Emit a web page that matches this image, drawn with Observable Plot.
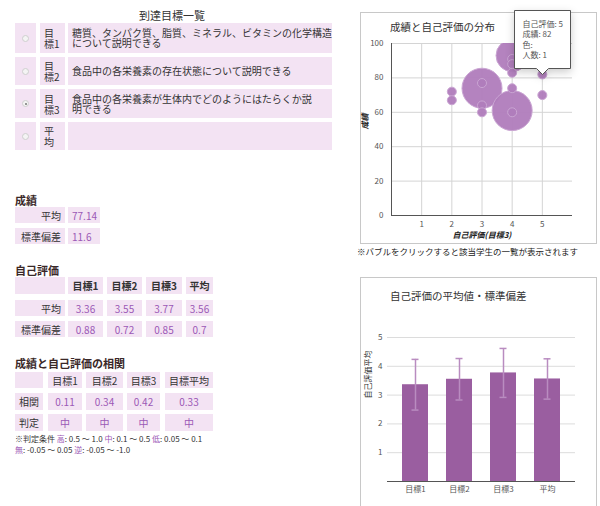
<!DOCTYPE html>
<html><head><meta charset="utf-8">
<script src="https://cdn.jsdelivr.net/npm/d3@7"></script>
<script src="https://cdn.jsdelivr.net/npm/@observablehq/plot@0.6"></script>
<style>
body{margin:0;width:600px;height:506px;position:relative;overflow:hidden;background:#fff;font-family:"Noto Sans CJK JP","Noto Sans",sans-serif;color:#333;}
.cell{position:absolute;box-sizing:border-box;background:#f3e3f3;font-size:10px;line-height:11px;display:flex;align-items:center;white-space:pre-line;}
.txt{position:absolute;white-space:nowrap;}
.hd{position:absolute;font-size:11px;font-weight:bold;color:#3a2828;white-space:nowrap;}
.val{color:#9b59b6;justify-content:center;}
.radio{width:7px;height:7px;border-radius:50%;border:1px solid #cfcfcf;background:#f4f4f4;box-sizing:border-box;margin:auto;position:relative;}
.radio.on::after{content:"";position:absolute;left:1.5px;top:1.5px;width:2px;height:2px;border-radius:50%;background:#777;}
.frame{position:absolute;box-sizing:border-box;border:1px solid #c8c8c8;}
.ctitle{position:absolute;font-size:10.5px;color:#333;white-space:nowrap;}
.plotwrap{position:absolute;}
</style></head><body>
<script>
// ---- data ----
const goalTitle = "到達目標一覧";
const goalLabels = ["目標1", "目標2", "目標3", "平均"];
const goalTexts = [
  "糖質、タンパク質、脂質、ミネラル、ビタミンの化学構造\nについて説明できる",
  "食品中の各栄養素の存在状態について説明できる",
  "食品中の各栄養素が生体内でどのようにはたらくか説\n明できる",
  ""
];
const selectedGoal = 2;
const scoreStatLabels = ["平均", "標準偏差"];
const scoreStatValues = ["77.14", "11.6"];
const selfCols = ["目標1", "目標2", "目標3", "平均"];
const selfRowLabels = ["平均", "標準偏差"];
const selfMean = [3.36, 3.55, 3.77, 3.56];
const selfSd = [0.88, 0.72, 0.85, 0.7];
const corrCols = ["目標1", "目標2", "目標3", "目標平均"];
const corrRowLabels = ["相関", "判定"];
const corrValues = [0.11, 0.34, 0.42, 0.33];
const corrJudge = ["中", "中", "中", "中"];
const noteLine1 = [["※判定条件 ", 0], ["高", 1], [": 0.5 〜 1.0 ", 0], ["中", 1], [": 0.1 〜 0.5 ", 0], ["低", 1], [": 0.05 〜 0.1", 0]];
const noteLine2 = [["無", 1], [": -0.05 〜 0.05 ", 0], ["逆", 1], [": -0.05 〜 -1.0", 0]];

const scatterTitle = "成績と自己評価の分布";
const scatterXLabel = "自己評価(目標3)";
const scatterYLabel = "成績";
const scatterNote = "※バブルをクリックすると該当学生の一覧が表示されます";
const bubbleSelf  = [3, 4, 4, 2, 2, 3, 3, 3, 4, 4, 4, 4, 4, 5, 5, 5];
const bubbleScore = [74, 93, 61, 72, 67, 77, 64, 60, 91, 88, 83, 74, 60, 87, 82, 70];
const bubbleCount = [5, 4, 5, 1, 1, 1, 1, 1, 1, 1, 1, 1, 1, 1, 1, 1];
const tipSelf = 5, tipScore = 82, tipCount = 1;
const scatterXTicks = [1, 2, 3, 4, 5];
const scatterYTicks = [0, 20, 40, 60, 80, 100];

const barTitle = "自己評価の平均値・標準偏差";
const barYLabel = "自己評価平均";
const barLabels = ["目標1", "目標2", "目標3", "平均"];
const barYTicks = [1, 2, 3, 4, 5];

// ---- helpers ----
function el(cls, x, y, w, h, text, extra) {
  const d = document.createElement("div");
  d.className = cls;
  d.style.left = x + "px"; d.style.top = y + "px";
  if (w != null) d.style.width = w + "px";
  if (h != null) d.style.height = h + "px";
  if (text) d.textContent = text;
  if (extra) Object.assign(d.style, extra);
  document.body.appendChild(d);
  return d;
}

// ---- goals table ----
el("txt", 0, 7, 344, null, goalTitle, {textAlign: "center", fontSize: "11px"});
const gRowY = [23, 57, 89, 122], gRowH = [30, 28, 29, 28];
goalLabels.forEach((g, i) => {
  const rc = el("cell", 15, gRowY[i], 21, gRowH[i], null);
  const r = document.createElement("div"); r.className = "radio" + (i === selectedGoal ? " on" : ""); rc.appendChild(r);
  el("cell", 40, gRowY[i], 25, gRowH[i], g.replace(/^(.)/, "$1\n"), {paddingLeft: "4px", fontSize: "10px"});
  el("cell", 68, gRowY[i], 264, gRowH[i], goalTexts[i], {paddingLeft: "4px", fontSize: "10px", lineHeight: "10px"});
});

// ---- score stats ----
el("hd", 15, 192, null, null, "成績");
[207, 228].forEach((y, i) => {
  el("cell", 15, y, 50, 16, scoreStatLabels[i], {justifyContent: "flex-end", paddingRight: "4px"});
  el("cell val", 68, y, 32, 16, scoreStatValues[i], {justifyContent: "flex-start", paddingLeft: "4px"});
});

// ---- self evaluation ----
el("hd", 15, 262, null, null, "自己評価");
const sx = [68, 107, 146, 186], sw = [35, 35, 36, 27];
el("cell", 15, 277, 50, 17, "");
selfCols.forEach((c, j) => el("cell", sx[j], 277, sw[j], 17, c, {justifyContent: "center", fontWeight: "bold"}));
[[300, selfMean], [321, selfSd]].forEach(([y, arr], i) => {
  el("cell", 15, y, 50, 16, selfRowLabels[i], {justifyContent: "flex-end", paddingRight: "4px"});
  arr.forEach((v, j) => el("cell val", sx[j], y, sw[j], 16, String(v)));
});

// ---- correlation ----
el("hd", 15, 355, null, null, "成績と自己評価の相関");
const cx = [48, 86, 127, 165], cw = [34, 37, 33, 48];
el("cell", 15, 372, 28, 16, "");
corrCols.forEach((c, j) => el("cell", cx[j], 372, cw[j], 16, c, {justifyContent: "center"}));
[[393, corrValues.map(String)], [414, corrJudge]].forEach(([y, arr], i) => {
  el("cell", 15, y, 28, 17, corrRowLabels[i], {justifyContent: "center"});
  arr.forEach((v, j) => el("cell val", cx[j], y, cw[j], 17, v));
});
function noteLine(parts, y) {
  const d = el("txt", 15, y, null, null, null, {fontSize: "8px", color: "#333"});
  parts.forEach(([t, c]) => { const s = document.createElement("span"); s.textContent = t; if (c) s.style.color = "#9b59b6"; d.appendChild(s); });
}
noteLine(noteLine1, 433);
noteLine(noteLine2, 444);

// ---- scatter chart ----
el("frame", 360, 12, 237, 232);
const bubbles = bubbleSelf.map((x, i) => ({x, y: bubbleScore[i], n: bubbleCount[i]})).sort((a, b) => b.n - a.n);
const fontFamily = '"Noto Sans CJK JP","Noto Sans",sans-serif';
const fmt = d => String(d);
const scatter = Plot.plot({
  width: 235, height: 230,
  marginLeft: 30, marginRight: 24, marginTop: 30, marginBottom: 28,
  style: {fontFamily, fontSize: "8px", color: "#555", background: "transparent", overflow: "visible"},
  x: {domain: [0, 6], ticks: scatterXTicks, tickFormat: fmt, tickSize: 0, tickPadding: 6, label: null},
  y: {domain: [0, 100], ticks: scatterYTicks, tickFormat: fmt, tickSize: 0, tickPadding: 8, label: null},
  r: {type: "linear", domain: [1, 5], range: [4.5, 20]},
  marks: [
    Plot.gridX(scatterXTicks, {stroke: "#d4d4d4", strokeOpacity: 1}),
    Plot.gridY(scatterYTicks.slice(1), {stroke: "#d4d4d4", strokeOpacity: 1}),
    Plot.ruleX([0], {stroke: "#555"}),
    Plot.ruleY([0], {stroke: "#555"}),
    Plot.dot(bubbles, {x: "x", y: "y", r: "n", fill: "#b07cbc", fillOpacity: 0.95, stroke: "#caa5d3", strokeWidth: 1, clip: "frame"}),
    Plot.text([scatterYLabel], {text: d => d, frameAnchor: "left", rotate: -90, dx: -26, fontStyle: "italic", fontWeight: "bold", fill: "#222", fontSize: 8}),
    Plot.text([scatterXLabel], {text: d => d, frameAnchor: "bottom", dy: 22, fontStyle: "italic", fontWeight: "bold", fill: "#222", fontSize: 8}),
    Plot.tip([{x: tipSelf, y: tipScore}], {x: "x", y: "y", anchor: "bottom", fontSize: 8, lineHeight: 1.3,
      title: () => `自己評価: ${tipSelf}\n成績: ${tipScore}\n色:\n人数: ${tipCount}`})
  ]
});
const sw1 = el("plotwrap", 361, 13, 235, 230); sw1.appendChild(scatter);
el("ctitle", 390, 19, null, null, scatterTitle);
el("txt", 357, 245, null, null, scatterNote, {fontSize: "8.5px", color: "#222"});

// ---- bar chart ----
el("frame", 360, 277, 237, 250);
const bars = barLabels.map((k, i) => ({k, m: selfMean[i], sd: selfSd[i]}));
const barChart = Plot.plot({
  width: 235, height: 228,
  marginLeft: 26, marginRight: 21, marginTop: 59, marginBottom: 25,
  style: {fontFamily, fontSize: "8px", color: "#555", background: "transparent"},
  x: {domain: barLabels, paddingInner: 0.4, paddingOuter: 0.3, tickSize: 0, tickPadding: 5, label: null},
  y: {domain: [0, 5], ticks: barYTicks, tickFormat: fmt, tickSize: 0, tickPadding: 5, label: null},
  marks: [
    Plot.gridY(barYTicks, {stroke: "#dcdcdc", strokeOpacity: 1}),
    Plot.barY(bars, {x: "k", y: "m", fill: "#9a5ea0"}),
    Plot.ruleX(bars, {x: "k", y1: d => d.m - d.sd, y2: d => d.m + d.sd, stroke: "#b98cc0", strokeWidth: 1.5}),
    Plot.tickY(bars, {x: "k", y: d => d.m + d.sd, stroke: "#b98cc0", strokeWidth: 1.5, insetLeft: 9.5, insetRight: 9.5}),
    Plot.tickY(bars, {x: "k", y: d => d.m - d.sd, stroke: "#b98cc0", strokeWidth: 1.5, insetLeft: 9.5, insetRight: 9.5}),
    Plot.ruleY([0], {stroke: "#555"}),
    Plot.text([barYLabel], {text: d => d, frameAnchor: "left", rotate: -90, dx: -19, dy: -11, fill: "#333", fontSize: 8})
  ]
});
const bw1 = el("plotwrap", 361, 278, 235, 228); bw1.appendChild(barChart);
el("ctitle", 390, 288, null, null, barTitle);
</script>
</body></html>
